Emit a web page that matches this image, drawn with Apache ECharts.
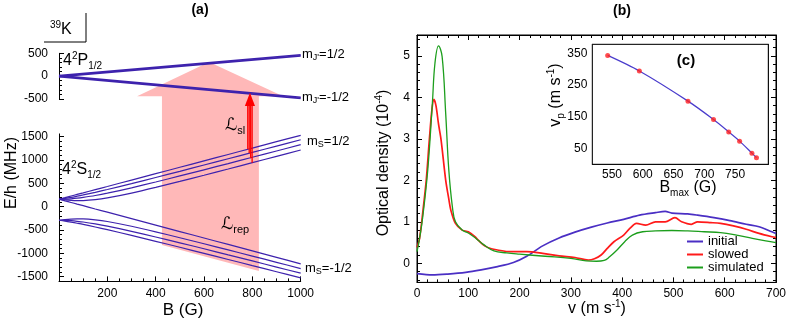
<!DOCTYPE html>
<html><head><meta charset="utf-8">
<script src="https://cdn.jsdelivr.net/npm/echarts@6/dist/echarts.min.js"></script>
<style>html,body{margin:0;padding:0;background:#fff}#c{width:789px;height:319px}</style>
</head><body><div id="c"></div>
<script>
const FONT = 'Liberation Sans, Arial, Helvetica, sans-serif';

// ---------- panel (a) data ----------
const pFieldB = [0, 1000];
const pUpperA = [12, 468];
const pUpperB = [-12, 444];
const pLowerA = [12, -462];
const pLowerB = [-12, -488];

const fieldB = [0, 25, 50, 75, 100, 150, 200, 300, 400, 500, 600, 700, 800, 900, 1000];
const sUp1 = [160, 194, 229, 263, 297, 366, 434, 571, 708, 845, 982, 1119, 1256, 1393, 1530];
const sUp2 = [160, 179, 201, 226, 252, 308, 369, 495, 625, 758, 893, 1028, 1163, 1299, 1435];
const sUp3 = [160, 163, 170, 182, 199, 240, 290, 405, 529, 659, 791, 924, 1059, 1194, 1330];
const sUp4 = [160, 145, 134, 130, 131, 150, 188, 292, 413, 542, 674, 808, 943, 1079, 1215];
const sDown1 = [160, 125, 91, 56, 22, -48, -117, -255, -393, -532, -670, -808, -946, -1085, -1223];
const sLow1 = [-290, -275, -265, -260, -261, -281, -317, -419, -538, -665, -794, -925, -1058, -1191, -1325];
const sLow2 = [-290, -292, -300, -312, -327, -368, -416, -527, -648, -773, -901, -1031, -1161, -1293, -1424];
const sLow3 = [-290, -308, -330, -354, -379, -434, -492, -614, -741, -869, -1000, -1130, -1262, -1393, -1525];

// repump arrow outline (B in G, E in MHz of the S-state axes)
const pumpArrowB = [426, 827, 827, 927, 621, 323, 426];
const pumpArrowE = [-820, -1378, 2365, 2365, 3100, 2365, 2365];
// slowing-laser arrows
const slB = [781, 787, 793, 799];
const slBottomE = [1230, 1145, 1041, 942];
const slTopE = 2157;
const slHeadB = [769, 811, 790];
const slHeadE = [2157, 2157, 2440];

// ---------- panel (b) data ----------
const initialV = [0, 30, 60, 95, 125, 157, 188, 214, 245, 277, 308, 340, 371, 403, 434, 465, 484, 497, 528, 547, 579, 610, 642, 667, 692, 700];
const initialOD = [-0.25, -0.28, -0.26, -0.22, -0.16, -0.08, 0.02, 0.17, 0.42, 0.61, 0.75, 0.87, 0.97, 1.06, 1.16, 1.22, 1.25, 1.21, 1.19, 1.16, 1.10, 1.03, 0.94, 0.88, 0.76, 0.72];
const slowedV = [0, 5, 11, 18, 24, 29, 33, 37, 42, 47, 56, 62, 66, 75, 88, 100, 113, 120, 132, 145, 157, 182, 214, 245, 277, 308, 334, 346, 359, 371, 384, 403, 415, 428, 446, 465, 484, 503, 516, 535, 547, 573, 592, 617, 642, 667, 692, 700];
const slowedOD = [0.38, 0.6, 1.2, 2.0, 2.97, 3.69, 3.95, 3.8, 3.35, 2.97, 2.0, 1.55, 1.28, 0.96, 0.8, 0.76, 0.64, 0.55, 0.42, 0.35, 0.32, 0.28, 0.28, 0.24, 0.18, 0.14, 0.08, 0.11, 0.2, 0.36, 0.52, 0.68, 0.84, 0.96, 0.92, 1.0, 1.0, 1.1, 1.0, 0.94, 1.0, 0.98, 0.96, 0.9, 0.82, 0.72, 0.64, 0.62];
const simV = [0, 5, 11, 21, 30, 35, 42, 49, 56, 62, 69, 75, 88, 100, 115, 130, 150, 175, 200, 250, 300, 330, 350, 365, 375, 390, 405, 420, 440, 465, 497, 528, 560, 592, 623, 654, 680, 700];
const simOD = [0.28, 0.6, 1.1, 2.25, 3.86, 4.82, 5.24, 4.98, 3.6, 2.25, 1.36, 1.0, 0.8, 0.73, 0.6, 0.45, 0.3, 0.25, 0.22, 0.17, 0.12, 0.06, 0.05, 0.07, 0.15, 0.32, 0.52, 0.68, 0.76, 0.78, 0.79, 0.78, 0.76, 0.74, 0.68, 0.6, 0.54, 0.5];

// ---------- panel (c) data ----------
const bmax = [543, 594.5, 673.5, 715, 739.7, 757.4, 777.4, 784.8];
const vp = [343, 294, 199, 141, 102, 73, 35, 21];

// ---------- tick lists ----------
const pMajor = [-500, 0, 500];
const pMinor = [-400, -300, -200, -100, 100, 200, 300, 400];
const sMajor = [-1500, -1000, -500, 0, 500, 1000, 1500];
const sMinor = [];
for (let v = -1600; v <= 1500; v += 100) if (v % 500 !== 0) sMinor.push(v);
const odMajor = [0, 1, 2, 3, 4, 5];
const odMinor = [];
for (let k = -2; k <= 27; k++) { if (k % 5 !== 0) odMinor.push(+(k * 0.2).toFixed(1)); }
const cXLabels = [550, 600, 650, 700, 750];
const cXTicks = [525, 550, 575, 600, 625, 650, 675, 700, 725, 750, 775, 800];
const cYLabels = [50, 150, 250, 350];
const cYTicks = [50, 100, 150, 200, 250, 300, 350];

const zip = (a, b) => a.map((x, i) => [x, b[i]]);
const BLK = {color: '#000', width: 1};
const plain = v => String(v);
const lbl = (extra) => Object.assign({color: '#000', fontFamily: FONT, fontSize: 12, formatter: plain}, extra || {});

function yAx(grid, min, max, labels, ticks, len, opts) {
  opts = opts || {};
  return {
    type: 'value', gridIndex: grid, min: min, max: max, position: opts.pos || 'left',
    axisLine: {show: !opts.noLine, onZero: false, lineStyle: BLK},
    axisTick: {show: true, inside: true, length: len, customValues: ticks, lineStyle: BLK},
    axisLabel: labels ? lbl({customValues: labels, margin: opts.margin || 8}) : {show: false},
    splitLine: {show: false}
  };
}
function xAx(grid, min, max, opts) {
  const o = {
    type: 'value', gridIndex: grid, min: min, max: max, position: opts.pos || 'bottom',
    axisLine: {show: true, onZero: false, lineStyle: BLK},
    axisTick: {show: true, inside: true, length: opts.len || 5, lineStyle: BLK},
    axisLabel: opts.noLabel ? {show: false} : lbl(opts.label),
    splitLine: {show: false}
  };
  if (opts.interval) o.interval = opts.interval;
  if (opts.ticks) o.axisTick.customValues = opts.ticks;
  if (opts.minor) o.minorTick = {show: true, splitNumber: opts.minor, length: 3, lineStyle: BLK};
  return o;
}

const LC = '#3d22ad';
const lineS = (name, xi, yi, data, color, w, smooth) => ({
  name: name, type: 'line', xAxisIndex: xi, yAxisIndex: yi, data: data,
  showSymbol: false, smooth: smooth, lineStyle: {color: color, width: w}, itemStyle: {color: color}, z: 2, silent: true
});

const chart = echarts.init(document.getElementById('c'), null, {renderer: 'canvas'});
const rich = {
  n: {fontSize: 16, fontFamily: FONT, color: '#000', lineHeight: 20},
  sup: {fontSize: 10, fontFamily: FONT, color: '#000', verticalAlign: 'top', lineHeight: 20},
  sub: {fontSize: 10, fontFamily: FONT, color: '#000', verticalAlign: 'bottom', lineHeight: 18},
  m: {fontSize: 13, fontFamily: FONT, color: '#000', lineHeight: 16},
  ms: {fontSize: 9, fontFamily: FONT, color: '#000', verticalAlign: 'bottom', lineHeight: 14},
  L: {fontSize: 17, fontFamily: 'DejaVu Serif, DejaVu Sans', color: '#000', lineHeight: 20},
  ls: {fontSize: 11, fontFamily: FONT, color: '#000', verticalAlign: 'bottom', lineHeight: 18}
};
const txt = (x, y, text, opts) => Object.assign({
  type: 'text', x: x, y: y, z: 20, silent: true,
  style: Object.assign({text: text, rich: rich, fill: '#000', font: '16px ' + FONT, align: 'left', verticalAlign: 'middle'}, (opts && opts.style) || {})
}, (opts && opts.el) || {});

const option = {
  animation: false,
  backgroundColor: '#fff',
  textStyle: {fontFamily: FONT},
  grid: [
    {left: 59, top: 53.3, width: 241.7, height: 45.7, show: false},
    {left: 59, top: 133.9, width: 241.7, height: 147.5, show: false},
    {left: 417, top: 35, width: 370, height: 247.4, show: true, borderColor: '#000', borderWidth: 1, backgroundColor: 'transparent'},
    {left: 592.3, top: 44.3, width: 176, height: 120, show: true, borderColor: '#000', borderWidth: 1, backgroundColor: '#fff', z: 3}
  ],
  legend: {
    left: 687, top: 235, orient: 'vertical', padding: 0, itemGap: 0,
    itemWidth: 16, itemHeight: 2, icon: 'rect',
    textStyle: {fontSize: 13, fontFamily: FONT, color: '#000', lineHeight: 12.3},
    data: ['initial', 'slowed', 'simulated']
  },
  xAxis: [
    {type: 'value', gridIndex: 0, min: 0, max: 1000, show: false},
    xAx(1, 0, 1000, {interval: 200, minor: 4, label: {margin: 6, formatter: v => (v === 0 ? '' : String(v))}}),
    xAx(2, 0, 700, {interval: 100, minor: 5, label: {margin: 5}}),
    xAx(2, 0, 700, {interval: 100, minor: 5, pos: 'top', noLabel: true}),
    xAx(3, 518, 804, {len: 3, ticks: cXTicks, label: {margin: 4, customValues: cXLabels}}),
    xAx(3, 518, 804, {len: 3, ticks: cXTicks, pos: 'top', noLabel: true})
  ],
  yAxis: [
    yAx(0, -500, 500, pMajor, pMajor, 5, {margin: 11}),
    yAx(0, -500, 500, null, pMinor, 3, {noLine: true}),
    yAx(1, -1600, 1560, sMajor, sMajor, 5, {margin: 11}),
    yAx(1, -1600, 1560, null, sMinor, 3, {noLine: true}),
    yAx(2, -0.46, 5.5, odMajor, odMajor, 5, {margin: 7}),
    yAx(2, -0.46, 5.5, null, odMinor, 3, {noLine: true}),
    yAx(2, -0.46, 5.5, null, odMajor, 5, {pos: 'right'}),
    yAx(2, -0.46, 5.5, null, odMinor, 3, {pos: 'right', noLine: true}),
    yAx(3, 0, 378, cYLabels, cYTicks, 3, {margin: 5}),
    yAx(3, 0, 378, null, cYTicks, 3, {pos: 'right'})
  ],
  series: [
    {type: 'custom', name: 'repump', xAxisIndex: 1, yAxisIndex: 2, clip: false, z: 1, silent: true,
     data: [[0, 0]],
     renderItem: (params, api) => ({
       type: 'polygon',
       shape: {points: pumpArrowB.map((b, i) => api.coord([b, pumpArrowE[i]]))},
       style: {fill: '#ffb8b8'}
     })},
    lineS('p1', 0, 0, zip(pFieldB, pUpperA), LC, 1.7, false),
    lineS('p2', 0, 0, zip(pFieldB, pUpperB), LC, 1.7, false),
    lineS('p3', 0, 0, zip(pFieldB, pLowerA), LC, 1.7, false),
    lineS('p4', 0, 0, zip(pFieldB, pLowerB), LC, 1.7, false),
    lineS('s1', 1, 2, zip(fieldB, sUp1), LC, 1.2, 0.3),
    lineS('s2', 1, 2, zip(fieldB, sUp2), LC, 1.2, 0.3),
    lineS('s3', 1, 2, zip(fieldB, sUp3), LC, 1.2, 0.3),
    lineS('s4', 1, 2, zip(fieldB, sUp4), LC, 1.2, 0.3),
    lineS('s5', 1, 2, zip(fieldB, sDown1), LC, 1.2, 0.3),
    lineS('s6', 1, 2, zip(fieldB, sLow1), LC, 1.2, 0.3),
    lineS('s7', 1, 2, zip(fieldB, sLow2), LC, 1.2, 0.3),
    lineS('s8', 1, 2, zip(fieldB, sLow3), LC, 1.2, 0.3),
    {type: 'custom', name: 'slower', xAxisIndex: 1, yAxisIndex: 2, clip: false, z: 4, silent: true,
     data: [[0, 0]],
     renderItem: (params, api) => {
       const children = slB.map((b, i) => {
         const p0 = api.coord([b, slBottomE[i]]);
         const p1 = api.coord([b, slTopE]);
         return {type: 'line', shape: {x1: p0[0], y1: p0[1], x2: p1[0], y2: p1[1]}, style: {stroke: '#ff0000', lineWidth: 1.3}};
       });
       children.push({type: 'polygon', shape: {points: slHeadB.map((b, i) => api.coord([b, slHeadE[i]]))}, style: {fill: '#ff0000'}});
       return {type: 'group', children: children};
     }},
    lineS('initial', 2, 4, zip(initialV, initialOD), '#4a2fc4', 1.7, 0.3),
    lineS('slowed', 2, 4, zip(slowedV, slowedOD), '#ff1a1a', 1.7, 0.3),
    lineS('simulated', 2, 4, zip(simV, simOD), '#1c9e1c', 1.3, 0.4),
    Object.assign(lineS('fit', 4, 8, zip(bmax, vp), '#4a3ccc', 1.2, 0.3), {z: 5}),
    {type: 'scatter', name: 'pts', xAxisIndex: 4, yAxisIndex: 8, data: zip(bmax, vp), symbolSize: 5,
     itemStyle: {color: '#ff2020'}, z: 6, silent: true}
  ],
  graphic: [
    txt(200, 10, '(a)', {style: {font: 'bold 14px ' + FONT, align: 'center'}}),
    txt(622, 11, '(b)', {style: {font: 'bold 14px ' + FONT, align: 'center'}}),
    txt(686, 61, '(c)', {style: {font: 'bold 15px ' + FONT, align: 'center'}}),
    txt(50, 30, '{sup|39}{n|K}'),
    {type: 'line', silent: true, z: 20, shape: {x1: 86, y1: 13, x2: 86, y2: 42}, style: {stroke: '#000', lineWidth: 1}},
    {type: 'line', silent: true, z: 20, shape: {x1: 44, y1: 42, x2: 86, y2: 42}, style: {stroke: '#000', lineWidth: 1}},
    txt(63, 61, '{n|4}{sup|2}{n|P}{sub|1/2}'),
    txt(62, 170, '{n|4}{sup|2}{n|S}{sub|1/2}'),
    txt(302, 54, "{m|m}{ms|J'}{m|=1/2}"),
    txt(302, 97, "{m|m}{ms|J'}{m|=-1/2}"),
    txt(307, 141, '{m|m}{ms|S}{m|=1/2}'),
    txt(305, 268, '{m|m}{ms|S}{m|=-1/2}'),
    txt(225, 126, '{L|ℒ}{ls|sl}'),
    txt(221, 225, '{L|ℒ}{ls|rep}'),
    txt(12, 173, 'E/h (MHz)', {style: {align: 'center', font: '16px ' + FONT}, el: {rotation: Math.PI / 2}}),
    txt(183, 310, 'B (G)', {style: {align: 'center', font: '17px ' + FONT}}),
    txt(384, 163, '{n|Optical density (10}{sup|-4}{n|)}', {style: {align: 'center'}, el: {rotation: Math.PI / 2}}),
    txt(597, 309, '{n|v (m s}{sup|-1}{n|)}', {style: {align: 'center'}}),
    txt(556, 95, '{n|v}{sub|p}{n| (m s}{sup|-1}{n|)}', {style: {align: 'center'}, el: {rotation: Math.PI / 2}}),
    txt(688, 188, '{n|B}{sub|max}{n| (G)}', {style: {align: 'center'}})
  ]
};
chart.setOption(option);
</script></body></html>
